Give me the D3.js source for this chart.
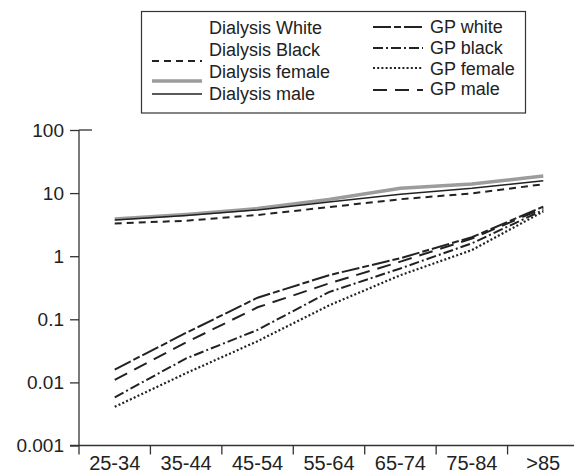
<!DOCTYPE html>
<html><head><meta charset="utf-8">
<script src="https://cdn.jsdelivr.net/npm/d3@7"></script>
<style>body{margin:0;background:#fff}svg{display:block}text{font-family:"Liberation Sans",Arial,sans-serif;fill:#222}</style>
</head><body><svg id="c" width="574" height="474"></svg>
<script>
const categories = ["25-34","35-44","45-54","55-64","65-74","75-84",">85"];
const yTicks = [0.001, 0.01, 0.1, 1, 10, 100];
const yTickLabels = ["0.001","0.01","0.1","1","10","100"];
const dialysisWhite  = [3.8, 4.4, 5.4, 7.2, 9.8, 12.2, 16.0];
const dialysisBlack  = [3.3, 3.65, 4.5, 6.0, 8.0, 9.9, 13.8];
const dialysisFemale = [3.9, 4.6, 5.7, 7.9, 11.9, 13.9, 18.7];
const dialysisMale   = [3.75, 4.4, 5.4, 7.2, 9.6, 11.9, 15.7];
const gpWhite  = [0.016, 0.061, 0.22, 0.50, 0.93, 2.0, 6.1];
const gpBlack  = [0.0058, 0.024, 0.068, 0.27, 0.64, 1.6, 5.4];
const gpFemale = [0.0041, 0.014, 0.045, 0.166, 0.50, 1.25, 5.1];
const gpMale   = [0.011, 0.043, 0.155, 0.37, 0.82, 1.9, 5.75];

const series = [
  {name:"Dialysis White", values:dialysisWhite, color:"#fff", width:1.5, dash:null, col:0, row:0},
  {name:"Dialysis Black", values:dialysisBlack, color:"#222", width:2, dash:"7,5", col:0, row:1},
  {name:"Dialysis female", values:dialysisFemale, color:"#9c9c9c", width:3.5, dash:null, col:0, row:2},
  {name:"Dialysis male", values:dialysisMale, color:"#222", width:1.5, dash:null, col:0, row:3},
  {name:"GP white", values:gpWhite, color:"#222", width:2, dash:"18,3,7,3", col:1, row:0},
  {name:"GP black", values:gpBlack, color:"#222", width:2, dash:"10,3,2,3", col:1, row:1},
  {name:"GP female", values:gpFemale, color:"#222", width:2.2, dash:"2,2.2", col:1, row:2},
  {name:"GP male", values:gpMale, color:"#222", width:2, dash:"14,8", col:1, row:3}
];

const svg = d3.select("#c");
const mLeft = 79, mRight = 579, mTop = 130, mBottom = 445.5;
const x = d3.scalePoint().domain(categories).range([mLeft, mRight]).padding(0.5);
const y = d3.scaleLog().domain([0.001, 100]).range([mBottom, mTop]);
const axisColor = "#333";

// y axis
const ya = svg.append("g").attr("transform", `translate(${mLeft},0)`)
  .call(d3.axisLeft(y).tickValues(yTicks).tickFormat((d,i)=>yTickLabels[i]).tickSize(9).tickPadding(6));
ya.select(".domain").remove();
ya.selectAll("line").attr("stroke", axisColor).attr("stroke-width", 1.3);
ya.selectAll("text").style("font-size","19px").attr("fill","#222");
svg.append("line").attr("x1", mLeft).attr("x2", mLeft).attr("y1", y(100)).attr("y2", mBottom + 9)
  .attr("stroke", axisColor).attr("stroke-width", 1.3);
svg.append("line").attr("x1", mLeft).attr("x2", mLeft + 13).attr("y1", y(100)).attr("y2", y(100))
  .attr("stroke", axisColor).attr("stroke-width", 1.3);

// x axis
svg.append("line").attr("x1", mLeft - 9).attr("x2", 574).attr("y1", mBottom).attr("y2", mBottom)
  .attr("stroke", axisColor).attr("stroke-width", 1.3);
const step = x.step();
categories.slice(0, -1).forEach(c => {
  const bx = x(c) + step / 2;
  svg.append("line").attr("x1", bx).attr("x2", bx).attr("y1", mBottom).attr("y2", mBottom + 9)
    .attr("stroke", axisColor).attr("stroke-width", 1.3);
});
svg.append("g").selectAll("text").data(categories).join("text")
  .attr("x", d => x(d)).attr("y", 470).attr("text-anchor", "middle")
  .style("font-size", "20px").text(d => d);

// lines
const line = d3.line().x((d,i) => x(categories[i])).y(d => y(d));
svg.append("g").selectAll("path").data(series).join("path")
  .attr("d", d => line(d.values)).attr("fill", "none")
  .attr("stroke", d => d.color).attr("stroke-width", d => d.width)
  .attr("stroke-dasharray", d => d.dash);

// legend
svg.append("rect").attr("x", 141.5).attr("y", 11.5).attr("width", 384).attr("height", 101.5)
  .attr("fill", "none").attr("stroke", "#333").attr("stroke-width", 1.2);
const colSpec = [
  {lx1:152, lx2:202, tx:209, base:[34,56,78,100], ly:[28,61,81,94]},
  {lx1:373, lx2:423, tx:430, base:[33,54,75,95], ly:[27,48,68,90]}
];
const lg = svg.append("g");
series.forEach(s => {
  const cs = colSpec[s.col];
  lg.append("line").attr("x1", cs.lx1).attr("x2", cs.lx2).attr("y1", cs.ly[s.row]).attr("y2", cs.ly[s.row])
    .attr("stroke", s.color).attr("stroke-width", s.width).attr("stroke-dasharray", s.dash);
  lg.append("text").attr("x", cs.tx).attr("y", cs.base[s.row]).style("font-size", "18px").text(s.name);
});
</script></body></html>
